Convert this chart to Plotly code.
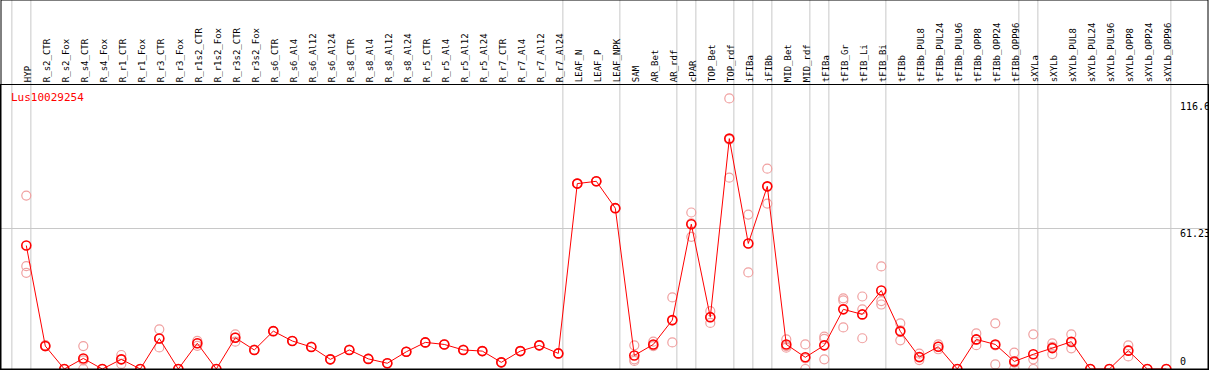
import plotly.graph_objects as go

categories = ["HYP", "R_s2_CTR", "R_s2_Fox", "R_s4_CTR", "R_s4_Fox", "R_r1_CTR", "R_r1_Fox",
              "R_r3_CTR", "R_r3_Fox", "R_r1s2_CTR", "R_r1s2_Fox", "R_r3s2_CTR", "R_r3s2_Fox",
              "R_s6_CTR", "R_s6_Al4", "R_s6_Al12", "R_s6_Al24", "R_s8_CTR", "R_s8_Al4",
              "R_s8_Al12", "R_s8_Al24", "R_r5_CTR", "R_r5_Al4", "R_r5_Al12", "R_r5_Al24",
              "R_r7_CTR", "R_r7_Al4", "R_r7_Al12", "R_r7_Al24", "LEAF_N", "LEAF_P", "LEAF_NPK",
              "SAM", "AR_Bet", "AR_rdf", "cPAR", "TOP_Bet", "TOP_rdf", "iFIBa", "iFIBb",
              "MID_Bet", "MID_rdf", "tFIBa", "tFIB_Gr", "tFIB_Li", "tFIB_Bi", "tFIBb",
              "tFIBb_PUL8", "tFIBb_PUL24", "tFIBb_PUL96", "tFIBb_OPP8", "tFIBb_OPP24",
              "tFIBb_OPP96", "sXYLa", "sXYLb", "sXYLb_PUL8", "sXYLb_PUL24", "sXYLb_PUL96",
              "sXYLb_OPP8", "sXYLb_OPP24", "sXYLb_OPP96"]

mean_values = [53.8, 10.0, 0, 4.6, 0, 4.2, 0, 13.3, 0, 11.2, 0, 13.6, 8.3,
               16.5, 12.2, 9.6, 4.2, 8.3, 4.4, 2.5, 7.5, 11.6, 10.7, 8.3, 7.8,
               2.9, 7.8, 10.3, 6.8, 80.8, 81.8, 70.1,
               5.9, 10.7, 21.3, 63.1, 22.6, 100.4, 54.7, 79.6,
               10.7, 5.1, 10.3, 26.0, 23.8, 34.2, 16.4,
               5.2, 9.7, 0, 12.9, 10.7, 3.3, 6.4, 9.1, 11.9, 0, 0, 8.0, 0, 0]

rep1 = [75.6, 10.4, 0, 10.0, 0, 6.1, 0, 17.3, 0, 12.3, 0, 15.1, 8.3,
        16.5, 12.2, 9.6, 4.2, 8.3, 4.4, 2.5, 7.5, 11.6, 10.7, 8.3, 7.8,
        2.9, 7.8, 10.3, 6.8, 80.8, 81.8, 70.1,
        10.3, 11.9, 31.2, 68.2, 25.2, 117.9, 67.3, 87.3,
        12.9, 10.7, 14.1, 30.8, 31.6, 44.7, 19.9,
        6.7, 10.7, 0, 15.5, 19.9, 7.1, 15.1, 11.2, 15.1, 0, 0, 10.3, 0, 0]
rep2 = [44.8, 9.8, 0, 0, 0, 2.2, 0, 9.4, 0, 11.2, 0, 11.9, 8.3,
        16.5, 12.2, 9.6, 4.2, 8.3, 4.4, 2.5, 7.5, 11.6, 10.7, 8.3, 7.8,
        2.9, 7.8, 10.3, 6.8, 80.8, 81.8, 70.1,
        4.2, 10.0, 11.6, 57.6, 20.1, 83.4, 42.1, 72.1,
        9.3, 0, 13.1, 29.9, 26.0, 29.6, 12.5,
        3.9, 8.6, 0, 10.4, 2.0, 0, 0, 6.5, 9.0, 0, 0, 5.5, 0, 0]
rep3 = [41.9, 10.0, 0, 3.8, 0, 4.2, 0, 13.2, 0, 10.1, 0, 13.8, 8.3,
        16.5, 12.2, 9.6, 4.2, 8.3, 4.4, 2.5, 7.5, 11.6, 10.7, 8.3, 7.8,
        2.9, 7.8, 10.3, 6.8, 80.8, 81.8, 70.1,
        3.5, 10.3, 21.1, 63.5, 22.5, 100.0, 54.7, 79.4,
        10.0, 4.6, 4.2, 18.1, 13.4, 28.1, 16.8,
        5.0, 9.8, 0, 12.8, 10.3, 2.8, 4.2, 9.6, 11.6, 0, 0, 8.2, 0, 0]

# last index of each group (group separators drawn just after these)
group_ends = [-1, 0, 28, 31, 34, 35, 37, 38, 39, 41, 42, 45, 52, 53, 60]

axis_labels = ["116.6", "61.23", "0"]
axis_label_values = [116.6, 61.23, 0]
title_text = "Lus10029254"

x_idx = list(range(len(categories)))
W, H = 1209, 370
ML, MR, MT, MB = 1, 1, 85, 1
plot_h = H - MT - MB
step = 19.0
first_px = 26.3
x_lo = -(first_px - ML) / step
x_hi = x_lo + (W - ML - MR) / step
y_scale = 140.5 / 61.23
y_hi = plot_h / y_scale

fig = go.Figure()
mono = "DejaVu Sans Mono"

rep_x, rep_y = [], []
for reps in (rep1, rep2, rep3):
    rep_x += x_idx
    rep_y += reps
fig.add_trace(go.Scatter(x=rep_x, y=rep_y, mode="markers",
                         marker=dict(symbol="circle-open", size=9, color="#f0a0a0",
                                     line=dict(width=1.2, color="#f0a0a0")),
                         hoverinfo="skip", showlegend=False))
fig.add_trace(go.Scatter(x=x_idx, y=mean_values, mode="lines+markers",
                         line=dict(color="#ff0000", width=1),
                         marker=dict(symbol="circle-open", size=9, color="#ff0000",
                                     line=dict(width=1.6, color="#ff0000")),
                         showlegend=False))

shapes = []
top_paper = 1 + MT / plot_h
for g in group_ends:
    xv = g + 0.24
    shapes.append(dict(type="line", xref="x", yref="paper", x0=xv, x1=xv, y0=0, y1=top_paper,
                       line=dict(color="#c8c8c8", width=1), layer="below"))
shapes.append(dict(type="rect", xref="paper", yref="paper", x0=0, x1=1, y0=0, y1=top_paper,
                   line=dict(color="black", width=1)))

annotations = [dict(text=title_text, xref="paper", yref="paper", x=(9 - ML) / (W - ML - MR),
                    y=(H - MB - 97.5) / plot_h, xanchor="left", yanchor="middle",
                    showarrow=False, font=dict(family=mono, size=11, color="#ff0000"))]
label_shift = [-5.3, -4.5, 7.5]
for lab, val, sh in zip(axis_labels, axis_label_values, label_shift):
    annotations.append(dict(text=lab, xref="paper", yref="y", x=(1178 - ML) / (W - ML - MR), y=val,
                            xanchor="left", yanchor="middle", yshift=sh, showarrow=False,
                            font=dict(family=mono, size=10, color="black")))

fig.update_layout(
    width=W, height=H, margin=dict(l=ML, r=MR, t=MT, b=MB, autoexpand=False),
    paper_bgcolor="white", plot_bgcolor="white",
    xaxis=dict(range=[x_lo, x_hi], side="top", tickmode="array", tickvals=x_idx,
               ticktext=categories, tickangle=-90, showgrid=False, zeroline=False,
               showline=True, linecolor="black", linewidth=1, mirror=True, ticks="",
               ticklabelshift=2,
               tickfont=dict(family=mono, size=9, color="black"), automargin=False),
    yaxis=dict(range=[0, y_hi], tickmode="array", tickvals=[61.23], showticklabels=False,
               showgrid=True, gridcolor="#c8c8c8", gridwidth=1, zeroline=False,
               showline=True, linecolor="black", linewidth=1, mirror=True, ticks="",
               automargin=False),
    shapes=shapes, annotations=annotations,
)
fig.write_html("out.html", config={"displayModeBar": False},
               post_script="document.body.style.margin='0';document.body.style.overflow='hidden';")
